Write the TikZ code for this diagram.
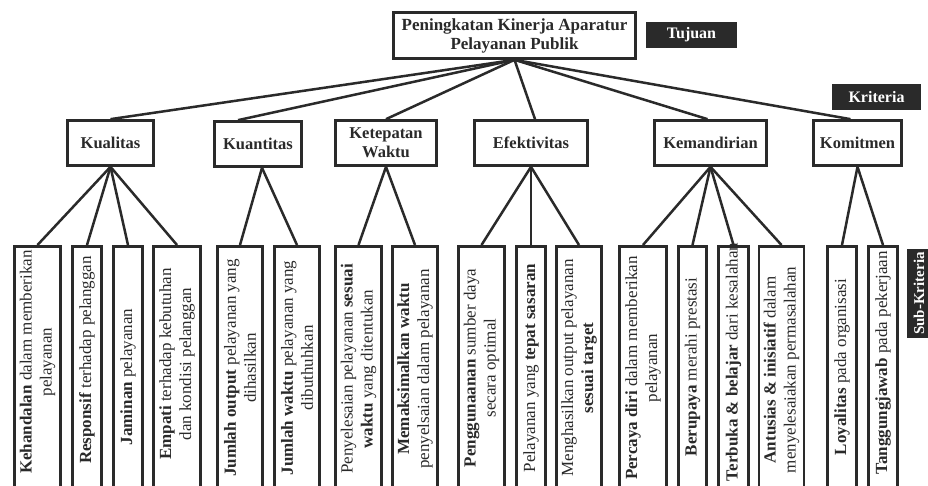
\documentclass[tikz,border=0pt]{standalone}
\usepackage{fontspec}
\setmainfont{Liberation Serif}
\definecolor{ink}{HTML}{2A2A2A}
\newcommand\subc[5]{%
  \node[subbox, minimum width=#3pt] (#1) at (#2,245) {};
  \node[subtext] (#1t) at (#2,#4) {#5};}
\begin{document}
\begin{tikzpicture}[x=1pt,y=-1pt,
  box/.style={draw=ink, line width=2.7pt, fill=white, text=ink, inner sep=2pt, align=center},
  crit/.style={box, minimum height=45pt, font=\fontsize{16.5}{19}\selectfont\bfseries},
  tag/.style={fill=ink, text=white, font=\fontsize{16}{19}\selectfont\bfseries, inner sep=0pt, minimum height=26pt},
  subbox/.style={draw=ink, line width=2.7pt, fill=white, anchor=north, minimum height=260pt, inner sep=0pt},
  subtext/.style={rotate=90, align=center, text=ink, font=\fontsize{17}{20}\selectfont, inner sep=0pt},
  link/.style={draw=ink, line width=2.5pt}]
\useasboundingbox (0,0) rectangle (928,486);
\clip (0,0) rectangle (928,486);
\fill[white] (0,0) rectangle (928,486);

% goal
\node[box, minimum width=242pt, minimum height=46pt, font=\fontsize{17}{19}\selectfont\bfseries] (main) at (514.5,35.5)
  {Peningkatan Kinerja Aparatur\\Pelayanan Publik};
\node[tag, minimum width=91pt] (tujuan) at (691.5,35) {Tujuan};
\node[tag, minimum width=89pt] (kriteria) at (876.5,97) {Kriteria};
\node[tag, rotate=90, minimum width=89pt, minimum height=24pt, font=\fontsize{15}{18}\selectfont\bfseries] (subkrit) at (919,293.5) {Sub-Kriteria};

% criteria
\node[crit, minimum width=86pt] (kual) at (110.5,143) {Kualitas};
\node[crit, minimum width=87pt] (kuan) at (258,144) {Kuantitas};
\node[crit, minimum width=101pt] (ketep) at (386,143) {Ketepatan\\Waktu};
\node[crit, minimum width=113pt] (efek) at (531,143) {Efektivitas};
\node[crit, minimum width=112pt] (keman) at (710.5,143) {Kemandirian};
\node[crit, minimum width=88pt] (komit) at (857.5,143) {Komitmen};

% sub-criteria
\subc{s1}{37.5}{46}{362}{\textbf{Kehandalan} dalam memberikan\\pelayanan}
\subc{s2}{87}{29}{360}{\textbf{Responsif} terhadap pelanggan}
\subc{s3}{128}{29}{377}{\textbf{Jaminan} pelayanan}
\subc{s4}{177}{47}{364}{\textbf{Empati} terhadap kebutuhan\\dan kondisi pelanggan}
\subc{s5}{240}{45}{368}{\textbf{Jumlah output} pelayanan yang\\dihasilkan}
\subc{s6}{297}{45}{368}{\textbf{Jumlah waktu} pelayanan yang\\dibuthuhkan}
\subc{s7}{358.5}{46}{369}{Penyelesaian pelayanan \textbf{sesuai}\\\textbf{waktu} yang ditentukan}
\subc{s8}{415}{45}{369}{\textbf{Memaksimalkan waktu}\\penyelsaian dalam pelayanan}
\subc{s9}{481.5}{46}{368}{\textbf{Penggunaanan} sumber daya\\secara optimal}
\subc{s10}{531}{29}{368}{Pelayanan yang \textbf{tepat sasaran}}
\subc{s11}{579}{45}{368}{Menghasilkan output pelayanan\\\textbf{sesuai target}}
\subc{s12}{643}{47}{368}{\textbf{Percaya diri} dalam memberikan\\pelayanan}
\subc{s13}{692.5}{28}{367}{\textbf{Berupaya} merahi prestasi}
\subc{s14}{733.5}{30}{362}{\textbf{Terbuka \& belajar} dari kesalahan}
\subc{s15}{781.5}{45}{370}{\textbf{Antusias \& inisiatif} dalam\\menyelesaiakan permasalahan}
\subc{s16}{842}{29}{367}{\textbf{Loyalitas} pada organisasi}
\subc{s17}{883}{29}{363}{\textbf{Tanggungjawab} pada pekerjaan}

% connectors goal -> criteria
\draw[link] (main.south) -- (kual.north);
\draw[link] (main.south) -- ([xshift=-20pt]kuan.north);
\draw[link] (main.south) -- (ketep.north);
\draw[link] (main.south) -- ([xshift=4pt]efek.north);
\draw[link] (main.south) -- ([xshift=-3pt]keman.north);
\draw[link] (main.south) -- ([xshift=-7pt]komit.north);

% connectors criteria -> sub-criteria
\foreach \s in {s1,s2,s3,s4} \draw[link] (kual.south) -- (\s.north);
\foreach \s in {s5,s6} \draw[link] ([xshift=4pt]kuan.south) -- (\s.north);
\foreach \s in {s7,s8} \draw[link] (ketep.south) -- (\s.north);
\foreach \s in {s9,s10,s11} \draw[link] (efek.south) -- (\s.north);
\foreach \s in {s12,s13,s14,s15} \draw[link] (keman.south) -- (\s.north);
\foreach \s in {s16,s17} \draw[link] (komit.south) -- (\s.north);
\end{tikzpicture}
\end{document}
